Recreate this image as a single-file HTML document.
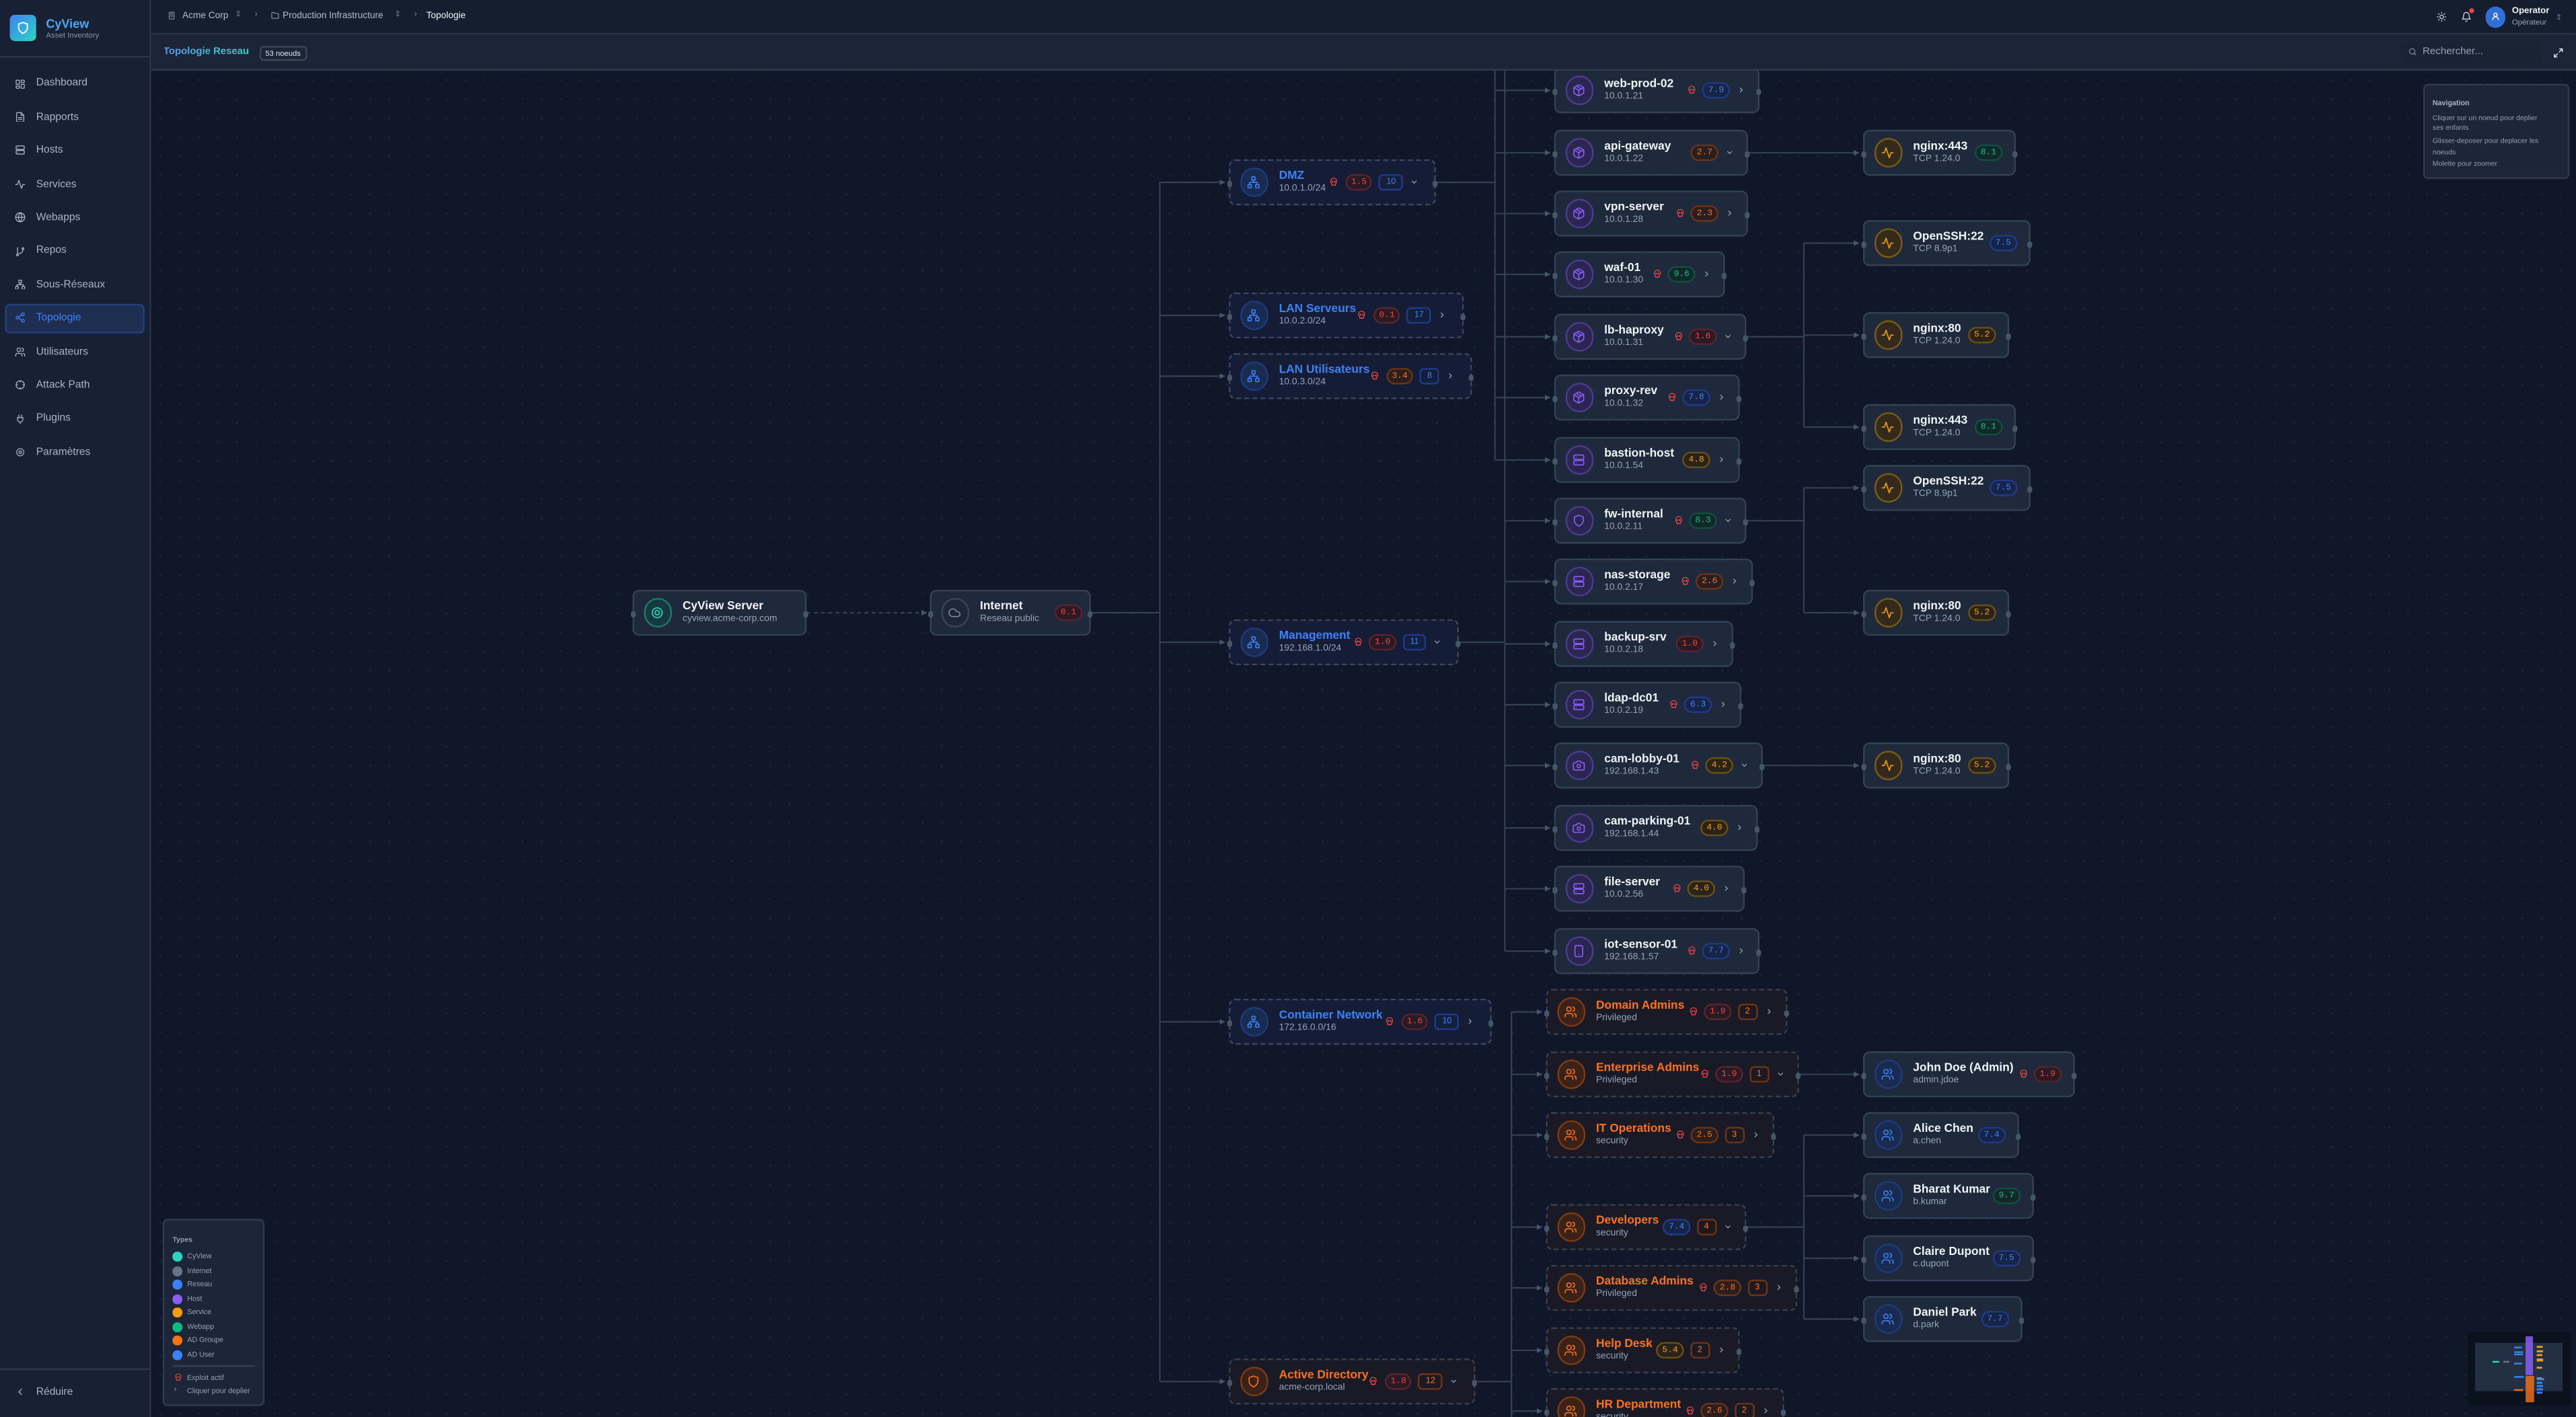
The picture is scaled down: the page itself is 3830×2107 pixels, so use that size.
<!DOCTYPE html>
<html><head><meta charset="utf-8"><style>
*{margin:0;padding:0;box-sizing:border-box}
html,body{width:3830px;height:2107px;overflow:hidden;background:#0f1729;font-family:"Liberation Sans",sans-serif}
#root{position:absolute;left:0;top:0;width:1568px;height:862.6px;transform:scale(2.44260);transform-origin:0 0;background:#0f1729}
.abs{position:absolute}
#side{left:0;top:0;width:92px;height:862.6px;background:#182133;border-right:0.5px solid #2a3547}
.logo{left:6.3px;top:8.8px;width:16px;height:16px;border-radius:3px;background:linear-gradient(135deg,#3b82f6,#2dd4bf);display:flex;align-items:center;justify-content:center}
.nav{position:absolute;left:0;width:92px;height:10px;display:flex;align-items:center;font-size:6.4px;color:#a9b3c2}
.nav svg{position:absolute;left:9.2px;width:6.6px;height:6.6px;stroke:#a9b3c2;fill:none;stroke-width:2;stroke-linecap:round;stroke-linejoin:round}
.nav span{position:absolute;left:22px}
#hdr{left:92px;top:0;width:1476px;height:21.3px;background:#151e2f;border-bottom:0.5px solid #2b3648}
#tb{left:92px;top:21.3px;width:1476px;height:21.8px;background:#1b2537;border-bottom:0.5px solid #2f3a4d}
#cv{left:92px;top:43.1px;width:1476px;height:819.5px;overflow:hidden;background-color:#0f1729;background-image:radial-gradient(circle,#1b2538 0.45px,transparent 0.8px);background-size:11.6px 11.6px}
#in{position:absolute;left:-92px;top:-43.1px;width:1568px;height:863px}
.n{position:absolute;height:28px;display:flex;align-items:center;border:0.6px solid #334155;border-radius:4px;background:#1e293b;padding-left:5.5px}
.n::before,.n::after{content:"";position:absolute;top:12.4px;width:3.2px;height:3.2px;border-radius:50%;background:#475569}
.n::before{left:-1.9px}.n::after{right:-1.9px}
.n.d{border:0.8px dashed #3a475c;background:#141d35}
.n.g{border:0.8px dashed #3a3f4c;background:#1a1a26}
.ic{flex:none;width:17.5px;height:17.5px;border-radius:50%;border:0.6px solid;display:flex;align-items:center;justify-content:center}
.ic svg{width:8px;height:8px;fill:none;stroke:currentColor;stroke-width:2;stroke-linecap:round;stroke-linejoin:round}
.ih{color:#8b5cf6;background:#2a2650;border-color:#4c3a8f}
.is{color:#f59e0b;background:#332a1c;border-color:#7a5a16}
.in{color:#3b82f6;background:#1a2b52;border-color:#1e3a7a}
.ia{color:#f97316;background:#3a2218;border-color:#7a3a14}
.ic.ic0{color:#2dd4bf;background:#143a3d;border-color:#1c7a6d}
.ig{color:#7b8798;background:#1e2737;border-color:#3a4658}
.tx{margin-left:6.5px;flex:1;min-width:0;white-space:nowrap}
.t{font-size:7.1px;font-weight:700;color:#f1f5f9;line-height:8.6px}
.s{font-size:5.7px;color:#94a3b8;line-height:8px}
.d .t{color:#3b82f6}.g .t,.ad .t{color:#f97316}
.r{display:flex;align-items:center;padding-right:7.5px;flex:none}
.sk{width:5.6px;height:5.6px;margin-right:4px;fill:none;stroke:#ef4444;stroke-width:2.2}
.b{width:16.3px;height:10.8px;border-radius:5.4px;border:0.6px solid;font-family:"Liberation Mono",monospace;font-size:5.3px;display:flex;align-items:center;justify-content:center}
.c{height:10.6px;min-width:11px;padding:0 3.6px;margin-left:4px;border-radius:2.8px;border:0.6px solid;font-size:5.1px;display:flex;align-items:center;justify-content:center}
.cb{color:#3b82f6;border-color:#1e3a8a;background:#141f3c}
.co{color:#f97316;border-color:#6b3418;background:#1c1a20}
.cvn{width:5.6px;height:5.6px;margin-left:4.2px;fill:none;stroke:#94a3b8;stroke-width:2.2}
.R{color:#ef4444;background:#2a1a24;border-color:#5b2330}
.O{color:#f97316;background:#2a1f1e;border-color:#6b3418}
.A{color:#f59e0b;background:#2a2418;border-color:#6b4f12}
.B{color:#3b82f6;background:#172445;border-color:#1e3a8a}
.G{color:#10b981;background:#12292a;border-color:#0f5040}
.hi{width:7px;height:7px;fill:none;stroke:#94a3b8;stroke-width:2;stroke-linecap:round;stroke-linejoin:round}
</style></head><body>
<svg width="0" height="0" style="position:absolute">
<defs>
<symbol id="host" viewBox="0 0 24 24"><path d="M21 16V8a2 2 0 0 0-1-1.7l-7-4a2 2 0 0 0-2 0l-7 4A2 2 0 0 0 3 8v8a2 2 0 0 0 1 1.7l7 4a2 2 0 0 0 2 0l7-4A2 2 0 0 0 21 16zM3.3 7L12 12l8.7-5M12 22V12M7.5 4.3l9 5.1"/></symbol>
<symbol id="srv" viewBox="0 0 24 24"><rect x="3" y="3" width="18" height="8" rx="2"/><rect x="3" y="13" width="18" height="8" rx="2"/><path d="M7 7h.01M7 17h.01"/></symbol>
<symbol id="shd" viewBox="0 0 24 24"><path d="M12 22s8-4 8-10V5l-8-3-8 3v7c0 6 8 10 8 10z"/></symbol>
<symbol id="cam" viewBox="0 0 24 24"><path d="M14.5 4h-5L7 7H4a2 2 0 0 0-2 2v9a2 2 0 0 0 2 2h16a2 2 0 0 0 2-2V9a2 2 0 0 0-2-2h-3z"/><circle cx="12" cy="13" r="3"/></symbol>
<symbol id="tab" viewBox="0 0 24 24"><rect x="5" y="2" width="14" height="20" rx="2"/><path d="M12 18h.01"/></symbol>
<symbol id="act" viewBox="0 0 24 24"><path d="M22 12h-4l-3 9L9 3l-3 9H2"/></symbol>
<symbol id="net" viewBox="0 0 24 24"><rect x="16" y="16" width="6" height="6" rx="1"/><rect x="2" y="16" width="6" height="6" rx="1"/><rect x="9" y="2" width="6" height="6" rx="1"/><path d="M5 16v-3a1 1 0 0 1 1-1h12a1 1 0 0 1 1 1v3M12 12V8"/></symbol>
<symbol id="usr" viewBox="0 0 24 24"><path d="M16 21v-2a4 4 0 0 0-4-4H6a4 4 0 0 0-4 4v2"/><circle cx="9" cy="7" r="4"/><path d="M22 21v-2a4 4 0 0 0-3-3.9M16 3.1a4 4 0 0 1 0 7.8"/></symbol>
<symbol id="eye" viewBox="0 0 24 24"><circle cx="12" cy="12" r="9"/><circle cx="12" cy="12" r="4"/></symbol>
<symbol id="cld" viewBox="0 0 24 24"><path d="M17.5 19H9a7 7 0 1 1 6.7-9h1.8a4.5 4.5 0 1 1 0 9z"/></symbol>
<symbol id="skl" viewBox="0 0 24 24"><path d="M12 2a8 8 0 0 0-8 8c0 3 1.5 5 3 6v3.5a1 1 0 0 0 1 1h8a1 1 0 0 0 1-1V16c1.5-1 3-3 3-6a8 8 0 0 0-8-8z"/><circle cx="9" cy="11" r="1.2"/><circle cx="15" cy="11" r="1.2"/><path d="M10 20.5v-2M14 20.5v-2"/></symbol>
<symbol id="cr" viewBox="0 0 24 24"><path d="M9 18l6-6-6-6"/></symbol>
<symbol id="cd" viewBox="0 0 24 24"><path d="M6 9l6 6 6-6"/></symbol>
</defs></svg>
<div id="root">
<!-- sidebar -->
<div id="side" class="abs">
 <div class="logo abs"><svg width="8" height="8" viewBox="0 0 24 24" fill="none" stroke="#fff" stroke-width="2.4"><path d="M12 22s8-4 8-10V5l-8-3-8 3v7c0 6 8 10 8 10z"/></svg></div>
 <div class="abs" style="left:28px;top:9.5px;font-size:7.4px;font-weight:700;color:#4fa6f0;">CyView</div>
 <div class="abs" style="left:28px;top:18.6px;font-size:4.7px;color:#8a96a8;">Asset Inventory</div>
 <div class="abs" style="left:0;top:34.2px;width:92px;height:0.5px;background:#2b3648"></div>
 <div class="nav" style="top:45.8px"><svg viewBox="0 0 24 24"><rect x="3" y="3" width="7" height="9" rx="1"/><rect x="14" y="3" width="7" height="5" rx="1"/><rect x="14" y="12" width="7" height="9" rx="1"/><rect x="3" y="16" width="7" height="5" rx="1"/></svg><span>Dashboard</span></div>
 <div class="nav" style="top:66.2px"><svg viewBox="0 0 24 24"><path d="M14 2H6a2 2 0 0 0-2 2v16a2 2 0 0 0 2 2h12a2 2 0 0 0 2-2V8z"/><path d="M14 2v6h6M8 13h8M8 17h8"/></svg><span>Rapports</span></div>
 <div class="nav" style="top:86.6px"><svg viewBox="0 0 24 24"><use href="#srv"/></svg><span>Hosts</span></div>
 <div class="nav" style="top:107px"><svg viewBox="0 0 24 24"><path d="M22 12h-4l-3 9L9 3l-3 9H2"/></svg><span>Services</span></div>
 <div class="nav" style="top:127.4px"><svg viewBox="0 0 24 24"><circle cx="12" cy="12" r="10"/><path d="M2 12h20M12 2a15 15 0 0 1 0 20M12 2a15 15 0 0 0 0 20"/></svg><span>Webapps</span></div>
 <div class="nav" style="top:147.8px"><svg viewBox="0 0 24 24"><circle cx="6" cy="19" r="2"/><circle cx="18" cy="5" r="2"/><path d="M6 3v14M18 7a9 9 0 0 1-9 9"/></svg><span>Repos</span></div>
 <div class="nav" style="top:168.2px"><svg viewBox="0 0 24 24"><use href="#net"/></svg><span>Sous-Réseaux</span></div>
 <div class="abs" style="left:3.1px;top:184.7px;width:84.6px;height:18.4px;border-radius:3px;background:#1d2e50;border:0.5px solid #24407a"></div>
 <div class="nav" style="top:188.6px;color:#3b82f6"><svg viewBox="0 0 24 24" style="stroke:#3b82f6"><circle cx="18" cy="5" r="3"/><circle cx="6" cy="12" r="3"/><circle cx="18" cy="19" r="3"/><path d="M8.6 13.5l6.8 4M15.4 6.5l-6.8 4"/></svg><span>Topologie</span></div>
 <div class="nav" style="top:209px"><svg viewBox="0 0 24 24"><use href="#usr"/></svg><span>Utilisateurs</span></div>
 <div class="nav" style="top:229.4px"><svg viewBox="0 0 24 24"><circle cx="12" cy="12" r="9"/><path d="M12 3v3M12 18v3M3 12h3M18 12h3"/></svg><span>Attack Path</span></div>
 <div class="nav" style="top:249.8px"><svg viewBox="0 0 24 24"><path d="M9 2v6M15 2v6M6 8h12v4a6 6 0 0 1-12 0zM12 18v4"/></svg><span>Plugins</span></div>
 <div class="nav" style="top:270.2px"><svg viewBox="0 0 24 24"><circle cx="12" cy="12" r="3"/><circle cx="12" cy="12" r="8" stroke-dasharray="3 2"/></svg><span>Paramètres</span></div>
 <div class="abs" style="left:0;top:833px;width:92px;height:0.5px;background:#2b3648"></div>
 <div class="nav" style="top:842px"><svg viewBox="0 0 24 24"><path d="M15 18l-6-6 6-6"/></svg><span>Réduire</span></div>
</div>
<!-- header -->
<div id="hdr" class="abs">
 <svg class="hi abs" style="left:10px;top:7px;width:5px;height:5px" viewBox="0 0 24 24"><rect x="5" y="2" width="14" height="20" rx="1"/><path d="M9 6h2M13 6h2M9 10h2M13 10h2M9 14h2M13 14h2"/></svg>
 <div class="abs" style="left:19px;top:6.6px;font-size:5.6px;color:#b4bdca">Acme Corp</div>
 <div class="abs" style="left:51px;top:5.8px;font-size:5px;color:#6b778a">⇕</div>
 <div class="abs" style="left:63px;top:6.2px;font-size:5.6px;color:#6b778a">›</div>
 <svg class="hi abs" style="left:72.5px;top:7px;width:5px;height:5px" viewBox="0 0 24 24"><path d="M4 20h16a2 2 0 0 0 2-2V8a2 2 0 0 0-2-2h-8l-2-3H4a2 2 0 0 0-2 2v13a2 2 0 0 0 2 2z"/></svg>
 <div class="abs" style="left:80px;top:6.6px;font-size:5.6px;color:#b4bdca">Production Infrastructure</div>
 <div class="abs" style="left:148px;top:5.8px;font-size:5px;color:#6b778a">⇕</div>
 <div class="abs" style="left:160px;top:6.2px;font-size:5.6px;color:#6b778a">›</div>
 <div class="abs" style="left:167.5px;top:6.6px;font-size:5.6px;color:#f1f5f9">Topologie</div>
 <svg class="hi abs" style="left:1390.5px;top:7.2px;width:6.5px;height:6.5px;stroke:#cbd5e1" viewBox="0 0 24 24"><circle cx="12" cy="12" r="4"/><path d="M12 2v2M12 20v2M4.9 4.9l1.4 1.4M17.7 17.7l1.4 1.4M2 12h2M20 12h2M4.9 19.1l1.4-1.4M17.7 6.3l1.4-1.4"/></svg>
 <svg class="hi abs" style="left:1405.8px;top:7px;width:6.5px;height:6.5px;stroke:#cbd5e1" viewBox="0 0 24 24"><path d="M6 8a6 6 0 0 1 12 0c0 7 3 9 3 9H3s3-2 3-9M10.3 21a1.9 1.9 0 0 0 3.4 0"/></svg>
 <div class="abs" style="left:1410.5px;top:5.3px;width:3px;height:3px;border-radius:50%;background:#ef4444"></div>
 <div class="abs" style="left:1420.8px;top:4.2px;width:12.5px;height:12.5px;border-radius:50%;background:#2f6fd6;display:flex;align-items:center;justify-content:center"><svg width="6" height="6" viewBox="0 0 24 24" fill="none" stroke="#fff" stroke-width="2.4"><circle cx="12" cy="8" r="4"/><path d="M5 21v-1a7 7 0 0 1 14 0v1"/></svg></div>
 <div class="abs" style="left:1437px;top:4px;font-size:5.4px;font-weight:700;color:#f1f5f9">Operator</div>
 <div class="abs" style="left:1437px;top:11.2px;font-size:4.7px;color:#94a3b8">Opérateur</div>
 <div class="abs" style="left:1463.5px;top:7.5px;font-size:5px;color:#6b778a">⇕</div>
</div>
<!-- toolbar -->
<div id="tb" class="abs">
 <div class="abs" style="left:7.5px;top:6.8px;font-size:6.1px;font-weight:700;background:linear-gradient(90deg,#5b9cf2,#2dd4bf);-webkit-background-clip:text;background-clip:text;color:transparent">Topologie Reseau</div>
 <div class="abs" style="left:65.5px;top:6.3px;width:29.5px;height:9.2px;border:0.5px solid #3a4659;border-radius:2.5px;font-size:4.6px;color:#e2e8f0;display:flex;align-items:center;justify-content:center">53 noeuds</div>
 <div class="abs" style="left:1370px;top:3.7px;width:85px;height:14px;border-radius:3px;background:#1a2334"></div>
 <svg class="hi abs" style="left:1373.5px;top:8.2px;width:5px;height:5px" viewBox="0 0 24 24"><circle cx="11" cy="11" r="8"/><path d="M21 21l-4.3-4.3"/></svg>
 <div class="abs" style="left:1382.6px;top:6.9px;font-size:6.2px;color:#94a3b8">Rechercher...</div>
 <svg class="hi abs" style="left:1462px;top:7.7px;width:6.5px;height:6.5px;stroke:#f1f5f9" viewBox="0 0 24 24"><path d="M15 3h6v6M21 3l-7 7M9 21H3v-6M3 21l7-7"/></svg>
</div>
<!-- canvas -->
<div id="cv" class="abs"><div id="in">
<svg class="abs" style="left:0;top:0" width="1568" height="863" viewBox="0 0 1568 863">
<defs><marker id="ar" viewBox="0 0 6 6" refX="5.5" refY="3" markerWidth="3.4" markerHeight="3.4" orient="auto" markerUnits="userSpaceOnUse"><path d="M0 0L6 3L0 6z" fill="#475569"/></marker></defs>
<g fill="none" stroke="#334155" stroke-width="0.9">
<path d="M491 373H564" stroke-dasharray="2.4 2" marker-end="url(#ar)"/>
<path d="M664 373H706M706 111V841"/>
<path d="M706 111H745.5" marker-end="url(#ar)"/><path d="M706 192H745.5" marker-end="url(#ar)"/><path d="M706 229H745.5" marker-end="url(#ar)"/><path d="M706 391H745.5" marker-end="url(#ar)"/><path d="M706 622H745.5" marker-end="url(#ar)"/><path d="M706 841H745.5" marker-end="url(#ar)"/>
<path d="M874 111H910M910 40V280"/>
<path d="M910 55H943.5" marker-end="url(#ar)"/><path d="M910 93H943.5" marker-end="url(#ar)"/><path d="M910 130H943.5" marker-end="url(#ar)"/><path d="M910 167H943.5" marker-end="url(#ar)"/><path d="M910 205H943.5" marker-end="url(#ar)"/><path d="M910 242H943.5" marker-end="url(#ar)"/><path d="M910 280H943.5" marker-end="url(#ar)"/>
<path d="M888 391H916M916 40V579"/>
<path d="M916 317H943.5" marker-end="url(#ar)"/><path d="M916 354H943.5" marker-end="url(#ar)"/><path d="M916 392H943.5" marker-end="url(#ar)"/><path d="M916 429H943.5" marker-end="url(#ar)"/><path d="M916 466H943.5" marker-end="url(#ar)"/><path d="M916 504H943.5" marker-end="url(#ar)"/><path d="M916 541H943.5" marker-end="url(#ar)"/><path d="M916 579H943.5" marker-end="url(#ar)"/>
<path d="M1064 93H1131.5" marker-end="url(#ar)"/>
<path d="M1063 205H1098M1098 148V260"/>
<path d="M1098 148H1131.5" marker-end="url(#ar)"/><path d="M1098 204H1131.5" marker-end="url(#ar)"/><path d="M1098 260H1131.5" marker-end="url(#ar)"/>
<path d="M1063 317H1098M1098 297V373"/>
<path d="M1098 297H1131.5" marker-end="url(#ar)"/><path d="M1098 373H1131.5" marker-end="url(#ar)"/>
<path d="M1073 466H1131.5" marker-end="url(#ar)"/>
<path d="M898 841H920M920 616V870"/>
<path d="M920 616H938.5" marker-end="url(#ar)"/><path d="M920 654H938.5" marker-end="url(#ar)"/><path d="M920 691H938.5" marker-end="url(#ar)"/><path d="M920 747H938.5" marker-end="url(#ar)"/><path d="M920 784H938.5" marker-end="url(#ar)"/><path d="M920 822H938.5" marker-end="url(#ar)"/><path d="M920 859H938.5" marker-end="url(#ar)"/>
<path d="M1095 654H1131.5" marker-end="url(#ar)"/>
<path d="M1063 747H1098M1098 691V803"/>
<path d="M1098 691H1131.5" marker-end="url(#ar)"/><path d="M1098 728H1131.5" marker-end="url(#ar)"/><path d="M1098 766H1131.5" marker-end="url(#ar)"/><path d="M1098 803H1131.5" marker-end="url(#ar)"/>
</g></svg>

<!-- root nodes -->
<div class="n" style="left:385px;top:359px;width:106px"><i class="ic ic0"><svg><use href="#eye"/></svg></i><div class="tx"><div class="t">CyView Server</div><div class="s">cyview.acme-corp.com</div></div></div>
<div class="n" style="left:566px;top:359px;width:98px"><i class="ic ig"><svg><use href="#cld"/></svg></i><div class="tx"><div class="t">Internet</div><div class="s">Reseau public</div></div><div class="r" style="padding-right:4.5px"><span class="b R">0.1</span></div></div>

<!-- subnets -->
<div class="n d" style="left:748px;top:97px;width:126px"><i class="ic in"><svg><use href="#net"/></svg></i><div class="tx"><div class="t">DMZ</div><div class="s">10.0.1.0/24</div></div><div class="r" style="padding-right:9px"><svg class="sk"><use href="#skl"/></svg><span class="b R">1.5</span><span class="c cb">10</span><svg class="cvn"><use href="#cd"/></svg></div></div>
<div class="n d" style="left:748px;top:178px;width:143px"><i class="ic in"><svg><use href="#net"/></svg></i><div class="tx"><div class="t">LAN Serveurs</div><div class="s">10.0.2.0/24</div></div><div class="r" style="padding-right:9px"><svg class="sk"><use href="#skl"/></svg><span class="b R">0.1</span><span class="c cb">17</span><svg class="cvn"><use href="#cr"/></svg></div></div>
<div class="n d" style="left:748px;top:215px;width:148px"><i class="ic in"><svg><use href="#net"/></svg></i><div class="tx"><div class="t">LAN Utilisateurs</div><div class="s">10.0.3.0/24</div></div><div class="r" style="padding-right:9px"><svg class="sk"><use href="#skl"/></svg><span class="b O">3.4</span><span class="c cb">8</span><svg class="cvn"><use href="#cr"/></svg></div></div>
<div class="n d" style="left:748px;top:377px;width:140px"><i class="ic in"><svg><use href="#net"/></svg></i><div class="tx"><div class="t">Management</div><div class="s">192.168.1.0/24</div></div><div class="r" style="padding-right:9px"><svg class="sk"><use href="#skl"/></svg><span class="b R">1.0</span><span class="c cb">11</span><svg class="cvn"><use href="#cd"/></svg></div></div>
<div class="n d" style="left:748px;top:608px;width:160px"><i class="ic in"><svg><use href="#net"/></svg></i><div class="tx"><div class="t">Container Network</div><div class="s">172.16.0.0/16</div></div><div class="r" style="padding-right:9px"><svg class="sk"><use href="#skl"/></svg><span class="b R">1.6</span><span class="c cb">10</span><svg class="cvn"><use href="#cr"/></svg></div></div>
<div class="n g ad" style="left:748px;top:827px;width:150px"><i class="ic ia"><svg><use href="#shd"/></svg></i><div class="tx"><div class="t">Active Directory</div><div class="s">acme-corp.local</div></div><div class="r" style="padding-right:9px"><svg class="sk"><use href="#skl"/></svg><span class="b R">1.8</span><span class="c co">12</span><svg class="cvn"><use href="#cd"/></svg></div></div>

<!-- hosts -->
<div class="n" style="left:946px;top:41px;width:125px"><i class="ic ih"><svg><use href="#host"/></svg></i><div class="tx"><div class="t">web-prod-02</div><div class="s">10.0.1.21</div></div><div class="r"><svg class="sk"><use href="#skl"/></svg><span class="b B">7.9</span><svg class="cvn"><use href="#cr"/></svg></div></div>
<div class="n" style="left:946px;top:79px;width:118px"><i class="ic ih"><svg><use href="#host"/></svg></i><div class="tx"><div class="t">api-gateway</div><div class="s">10.0.1.22</div></div><div class="r"><span class="b O">2.7</span><svg class="cvn"><use href="#cd"/></svg></div></div>
<div class="n" style="left:946px;top:116px;width:118px"><i class="ic ih"><svg><use href="#host"/></svg></i><div class="tx"><div class="t">vpn-server</div><div class="s">10.0.1.28</div></div><div class="r"><svg class="sk"><use href="#skl"/></svg><span class="b O">2.3</span><svg class="cvn"><use href="#cr"/></svg></div></div>
<div class="n" style="left:946px;top:153px;width:104px"><i class="ic ih"><svg><use href="#host"/></svg></i><div class="tx"><div class="t">waf-01</div><div class="s">10.0.1.30</div></div><div class="r"><svg class="sk"><use href="#skl"/></svg><span class="b G">9.6</span><svg class="cvn"><use href="#cr"/></svg></div></div>
<div class="n" style="left:946px;top:191px;width:117px"><i class="ic ih"><svg><use href="#host"/></svg></i><div class="tx"><div class="t">lb-haproxy</div><div class="s">10.0.1.31</div></div><div class="r"><svg class="sk"><use href="#skl"/></svg><span class="b R">1.6</span><svg class="cvn"><use href="#cd"/></svg></div></div>
<div class="n" style="left:946px;top:228px;width:113px"><i class="ic ih"><svg><use href="#host"/></svg></i><div class="tx"><div class="t">proxy-rev</div><div class="s">10.0.1.32</div></div><div class="r"><svg class="sk"><use href="#skl"/></svg><span class="b B">7.8</span><svg class="cvn"><use href="#cr"/></svg></div></div>
<div class="n" style="left:946px;top:266px;width:113px"><i class="ic ih"><svg><use href="#srv"/></svg></i><div class="tx"><div class="t">bastion-host</div><div class="s">10.0.1.54</div></div><div class="r"><span class="b A">4.8</span><svg class="cvn"><use href="#cr"/></svg></div></div>
<div class="n" style="left:946px;top:303px;width:117px"><i class="ic ih"><svg><use href="#shd"/></svg></i><div class="tx"><div class="t">fw-internal</div><div class="s">10.0.2.11</div></div><div class="r"><svg class="sk"><use href="#skl"/></svg><span class="b G">8.3</span><svg class="cvn"><use href="#cd"/></svg></div></div>
<div class="n" style="left:946px;top:340px;width:121px"><i class="ic ih"><svg><use href="#srv"/></svg></i><div class="tx"><div class="t">nas-storage</div><div class="s">10.0.2.17</div></div><div class="r"><svg class="sk"><use href="#skl"/></svg><span class="b O">2.6</span><svg class="cvn"><use href="#cr"/></svg></div></div>
<div class="n" style="left:946px;top:378px;width:109px"><i class="ic ih"><svg><use href="#srv"/></svg></i><div class="tx"><div class="t">backup-srv</div><div class="s">10.0.2.18</div></div><div class="r"><span class="b R">1.0</span><svg class="cvn"><use href="#cr"/></svg></div></div>
<div class="n" style="left:946px;top:415px;width:114px"><i class="ic ih"><svg><use href="#srv"/></svg></i><div class="tx"><div class="t">ldap-dc01</div><div class="s">10.0.2.19</div></div><div class="r"><svg class="sk"><use href="#skl"/></svg><span class="b B">6.3</span><svg class="cvn"><use href="#cr"/></svg></div></div>
<div class="n" style="left:946px;top:452px;width:127px"><i class="ic ih"><svg><use href="#cam"/></svg></i><div class="tx"><div class="t">cam-lobby-01</div><div class="s">192.168.1.43</div></div><div class="r"><svg class="sk"><use href="#skl"/></svg><span class="b A">4.2</span><svg class="cvn"><use href="#cd"/></svg></div></div>
<div class="n" style="left:946px;top:490px;width:124px"><i class="ic ih"><svg><use href="#cam"/></svg></i><div class="tx"><div class="t">cam-parking-01</div><div class="s">192.168.1.44</div></div><div class="r"><span class="b A">4.0</span><svg class="cvn"><use href="#cr"/></svg></div></div>
<div class="n" style="left:946px;top:527px;width:116px"><i class="ic ih"><svg><use href="#srv"/></svg></i><div class="tx"><div class="t">file-server</div><div class="s">10.0.2.56</div></div><div class="r"><svg class="sk"><use href="#skl"/></svg><span class="b A">4.0</span><svg class="cvn"><use href="#cr"/></svg></div></div>
<div class="n" style="left:946px;top:565px;width:125px"><i class="ic ih"><svg><use href="#tab"/></svg></i><div class="tx"><div class="t">iot-sensor-01</div><div class="s">192.168.1.57</div></div><div class="r"><svg class="sk"><use href="#skl"/></svg><span class="b B">7.7</span><svg class="cvn"><use href="#cr"/></svg></div></div>

<!-- services -->
<div class="n" style="left:1134px;top:79px;width:93px"><i class="ic is"><svg><use href="#act"/></svg></i><div class="tx"><div class="t">nginx:443</div><div class="s">TCP 1.24.0</div></div><div class="r"><span class="b G">8.1</span></div></div>
<div class="n" style="left:1134px;top:134px;width:102px"><i class="ic is"><svg><use href="#act"/></svg></i><div class="tx"><div class="t">OpenSSH:22</div><div class="s">TCP 8.9p1</div></div><div class="r"><span class="b B">7.5</span></div></div>
<div class="n" style="left:1134px;top:190px;width:89px"><i class="ic is"><svg><use href="#act"/></svg></i><div class="tx"><div class="t">nginx:80</div><div class="s">TCP 1.24.0</div></div><div class="r"><span class="b A">5.2</span></div></div>
<div class="n" style="left:1134px;top:246px;width:93px"><i class="ic is"><svg><use href="#act"/></svg></i><div class="tx"><div class="t">nginx:443</div><div class="s">TCP 1.24.0</div></div><div class="r"><span class="b G">8.1</span></div></div>
<div class="n" style="left:1134px;top:283px;width:102px"><i class="ic is"><svg><use href="#act"/></svg></i><div class="tx"><div class="t">OpenSSH:22</div><div class="s">TCP 8.9p1</div></div><div class="r"><span class="b B">7.5</span></div></div>
<div class="n" style="left:1134px;top:359px;width:89px"><i class="ic is"><svg><use href="#act"/></svg></i><div class="tx"><div class="t">nginx:80</div><div class="s">TCP 1.24.0</div></div><div class="r"><span class="b A">5.2</span></div></div>
<div class="n" style="left:1134px;top:452px;width:89px"><i class="ic is"><svg><use href="#act"/></svg></i><div class="tx"><div class="t">nginx:80</div><div class="s">TCP 1.24.0</div></div><div class="r"><span class="b A">5.2</span></div></div>

<!-- AD groups -->
<div class="n g" style="left:941px;top:602px;width:147px"><i class="ic ia"><svg><use href="#usr"/></svg></i><div class="tx"><div class="t">Domain Admins</div><div class="s">Privileged</div></div><div class="r"><svg class="sk"><use href="#skl"/></svg><span class="b R">1.9</span><span class="c co">2</span><svg class="cvn"><use href="#cr"/></svg></div></div>
<div class="n g" style="left:941px;top:640px;width:154px"><i class="ic ia"><svg><use href="#usr"/></svg></i><div class="tx"><div class="t">Enterprise Admins</div><div class="s">Privileged</div></div><div class="r"><svg class="sk"><use href="#skl"/></svg><span class="b R">1.9</span><span class="c co">1</span><svg class="cvn"><use href="#cd"/></svg></div></div>
<div class="n g" style="left:941px;top:677px;width:139px"><i class="ic ia"><svg><use href="#usr"/></svg></i><div class="tx"><div class="t">IT Operations</div><div class="s">security</div></div><div class="r"><svg class="sk"><use href="#skl"/></svg><span class="b O">2.5</span><span class="c co">3</span><svg class="cvn"><use href="#cr"/></svg></div></div>
<div class="n g" style="left:941px;top:733px;width:122px"><i class="ic ia"><svg><use href="#usr"/></svg></i><div class="tx"><div class="t">Developers</div><div class="s">security</div></div><div class="r"><span class="b B">7.4</span><span class="c co">4</span><svg class="cvn"><use href="#cd"/></svg></div></div>
<div class="n g" style="left:941px;top:770px;width:153px"><i class="ic ia"><svg><use href="#usr"/></svg></i><div class="tx"><div class="t">Database Admins</div><div class="s">Privileged</div></div><div class="r"><svg class="sk"><use href="#skl"/></svg><span class="b O">2.8</span><span class="c co">3</span><svg class="cvn"><use href="#cr"/></svg></div></div>
<div class="n g" style="left:941px;top:808px;width:118px"><i class="ic ia"><svg><use href="#usr"/></svg></i><div class="tx"><div class="t">Help Desk</div><div class="s">security</div></div><div class="r"><span class="b A">5.4</span><span class="c co">2</span><svg class="cvn"><use href="#cr"/></svg></div></div>
<div class="n g" style="left:941px;top:845px;width:145px"><i class="ic ia"><svg><use href="#usr"/></svg></i><div class="tx"><div class="t">HR Department</div><div class="s">security</div></div><div class="r"><svg class="sk"><use href="#skl"/></svg><span class="b O">2.6</span><span class="c co">2</span><svg class="cvn"><use href="#cr"/></svg></div></div>

<!-- users -->
<div class="n" style="left:1134px;top:640px;width:129px"><i class="ic in"><svg><use href="#usr"/></svg></i><div class="tx"><div class="t">John Doe (Admin)</div><div class="s">admin.jdoe</div></div><div class="r"><svg class="sk"><use href="#skl"/></svg><span class="b R">1.9</span></div></div>
<div class="n" style="left:1134px;top:677px;width:95px"><i class="ic in"><svg><use href="#usr"/></svg></i><div class="tx"><div class="t">Alice Chen</div><div class="s">a.chen</div></div><div class="r"><span class="b B">7.4</span></div></div>
<div class="n" style="left:1134px;top:714px;width:104px"><i class="ic in"><svg><use href="#usr"/></svg></i><div class="tx"><div class="t">Bharat Kumar</div><div class="s">b.kumar</div></div><div class="r"><span class="b G">9.7</span></div></div>
<div class="n" style="left:1134px;top:752px;width:104px"><i class="ic in"><svg><use href="#usr"/></svg></i><div class="tx"><div class="t">Claire Dupont</div><div class="s">c.dupont</div></div><div class="r"><span class="b B">7.5</span></div></div>
<div class="n" style="left:1134px;top:789px;width:97px"><i class="ic in"><svg><use href="#usr"/></svg></i><div class="tx"><div class="t">Daniel Park</div><div class="s">d.park</div></div><div class="r"><span class="b B">7.7</span></div></div>

<!-- navigation panel -->
<div class="abs" style="left:1474.6px;top:50.5px;width:89.4px;height:58.5px;border-radius:3px;background:#1c2638;border:0.5px solid #2f3b4f"></div>
<div class="abs" style="left:1480.7px;top:60.3px;font-size:4.4px;font-weight:700;color:#aab4c3">Navigation</div>
<div class="abs" style="left:1480.7px;top:68.8px;width:82px;font-size:4.3px;line-height:6.6px;color:#94a0b2">Cliquer sur un noeud pour deplier<br>ses enfants</div>
<div class="abs" style="left:1480.7px;top:83.1px;width:82px;font-size:4.3px;line-height:6.6px;color:#94a0b2">Glisser-deposer pour deplacer les<br>noeuds</div>
<div class="abs" style="left:1480.7px;top:97.4px;font-size:4.3px;line-height:6.6px;color:#94a0b2">Molette pour zoomer</div>

<!-- legend -->
<div class="abs" style="left:99.3px;top:741.6px;width:62px;height:114px;border-radius:3px;background:#1c2638;border:0.5px solid #2f3b4f"></div>
<div class="abs" style="left:105px;top:751.8px;font-size:4.3px;font-weight:700;color:#94a0b2">Types</div>
<div class="abs" style="left:105px;top:761px;font-size:4.4px;line-height:8.5px;color:#94a0b2">
<div style="display:flex;align-items:center"><i style="width:5.6px;height:5.6px;border-radius:50%;background:#2dd4bf;margin-right:3.4px"></i>CyView</div>
<div style="display:flex;align-items:center"><i style="width:5.6px;height:5.6px;border-radius:50%;background:#64748b;margin-right:3.4px"></i>Internet</div>
<div style="display:flex;align-items:center"><i style="width:5.6px;height:5.6px;border-radius:50%;background:#3b82f6;margin-right:3.4px"></i>Reseau</div>
<div style="display:flex;align-items:center"><i style="width:5.6px;height:5.6px;border-radius:50%;background:#8b5cf6;margin-right:3.4px"></i>Host</div>
<div style="display:flex;align-items:center"><i style="width:5.6px;height:5.6px;border-radius:50%;background:#f59e0b;margin-right:3.4px"></i>Service</div>
<div style="display:flex;align-items:center"><i style="width:5.6px;height:5.6px;border-radius:50%;background:#10b981;margin-right:3.4px"></i>Webapp</div>
<div style="display:flex;align-items:center"><i style="width:5.6px;height:5.6px;border-radius:50%;background:#f97316;margin-right:3.4px"></i>AD Groupe</div>
<div style="display:flex;align-items:center"><i style="width:5.6px;height:5.6px;border-radius:50%;background:#3b82f6;margin-right:3.4px"></i>AD User</div>
</div>
<div class="abs" style="left:105px;top:830.8px;width:50px;height:0.4px;background:#34405a"></div>
<svg class="abs" style="left:105.5px;top:835.6px;width:5px;height:5px;fill:none;stroke:#ef4444;stroke-width:2"><use href="#skl"/></svg>
<div class="abs" style="left:113.8px;top:835.5px;font-size:4.4px;color:#94a0b2">Exploit actif</div>
<div class="abs" style="left:106px;top:843.2px;font-size:4.6px;color:#94a0b2">›</div>
<div class="abs" style="left:113.8px;top:843.6px;font-size:4.4px;color:#94a0b2">Cliquer pour deplier</div>

<!-- minimap -->
<svg class="abs" style="left:1502px;top:811px" width="63" height="45" viewBox="1502 811 63 45">
<rect x="1502" y="811" width="63" height="45" rx="3" fill="#0b111d"/>
<rect x="1506.6" y="817.4" width="53.2" height="29.5" fill="#233044"/>
<rect x="1517.2" y="828.5" width="4" height="1" fill="#2dd4bf"/>
<rect x="1523.8" y="828.5" width="3.6" height="1" fill="#64748b"/>
<g fill="#3b82f6"><rect x="1530.4" y="819.8" width="4.6" height="1"/><rect x="1530.4" y="822.6" width="5.3" height="1"/><rect x="1530.4" y="824" width="5.3" height="1"/><rect x="1530.4" y="829.6" width="4.8" height="1"/><rect x="1530.4" y="837.7" width="5.8" height="1"/></g>
<rect x="1530.4" y="845.7" width="5.4" height="1" fill="#f97316"/>
<g fill="#8b5cf6"><rect x="1537.3" y="813.5" width="4.5" height="23.6" opacity="0.85"/></g>
<g fill="#f97316"><rect x="1537.3" y="837.6" width="5.2" height="16" opacity="0.8"/></g>
<g fill="#f59e0b"><rect x="1544.1" y="819.3" width="3.6" height="1.2"/><rect x="1544.1" y="822" width="3.8" height="1.2"/><rect x="1544.1" y="824.3" width="3.4" height="1.2"/><rect x="1544.1" y="827" width="3.8" height="1.8"/><rect x="1544.1" y="832" width="3.2" height="1.2"/><rect x="1544.1" y="838.5" width="3.2" height="1.2"/></g>
<g fill="#3b82f6"><rect x="1544.1" y="839" width="4.5" height="1.2"/><rect x="1544.1" y="841.2" width="3.4" height="1.2"/><rect x="1544.1" y="843.2" width="3.8" height="1.2"/><rect x="1544.1" y="845.2" width="3.8" height="1.2"/><rect x="1544.1" y="847.2" width="3.4" height="1.2"/></g>
</svg>
</div></div>
</div>
</body></html>
